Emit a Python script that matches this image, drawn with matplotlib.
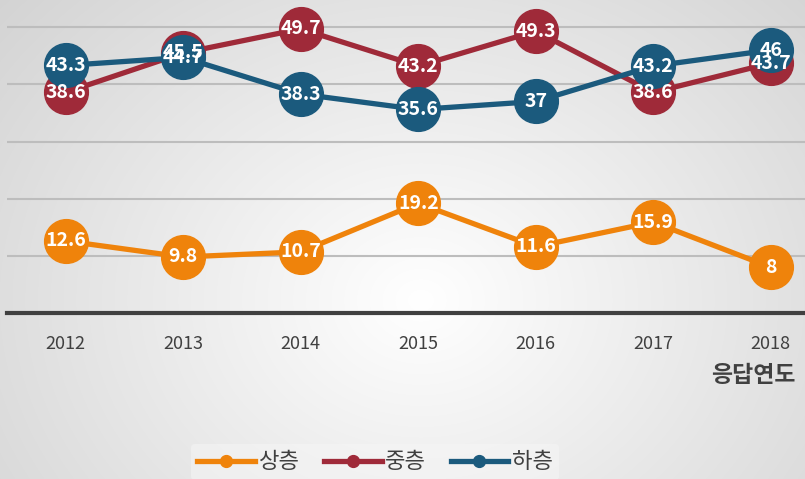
import numpy as np
import matplotlib
matplotlib.use("Agg")
import matplotlib.pyplot as plt

plt.rcParams['font.family'] = ['Noto Sans CJK KR', 'DejaVu Sans']

# data
years = ['2012', '2013', '2014', '2015', '2016', '2017', '2018']
upper = [12.6, 9.8, 10.7, 19.2, 11.6, 15.9, 8]
middle = [38.6, 45.5, 49.7, 43.2, 49.3, 38.6, 43.7]
lower = [43.3, 44.7, 38.3, 35.6, 37, 43.2, 46]
names = ['상층', '중층', '하층']
colors = ['#EF830B', '#9F2A39', '#1B5A7D']

fig = plt.figure(figsize=(8.05, 4.79), dpi=100)

# radial gradient background
bg = fig.add_axes([0, 0, 1, 1], zorder=-10)
yy, xx = np.mgrid[0:479, 0:805]
r = np.sqrt(((xx - 420) / 520.0) ** 2 + ((yy - 300) / 430.0) ** 2)
shade = 1.0 - 0.16 * np.clip(r, 0, 1.2)
bg.imshow(np.dstack([shade] * 3).clip(0, 1), aspect='auto', extent=[0, 1, 0, 1])
bg.axis('off')

ax = fig.add_axes([7 / 805, 166 / 479, 822.5 / 805, 343 / 479])
ax.patch.set_alpha(0)
x = np.arange(len(years))

series = [upper, middle, lower]
for vals, name, c in zip(series, names, colors):
    ax.plot(x, vals, color=c, lw=3.8, marker='o', ms=31.5, label=name,
            clip_on=False, zorder=3)
for vals in series:
    for xi, v in zip(x, vals):
        ax.text(xi, v, f'{v:g}', ha='center', va='center', color='white',
                fontsize=14, fontweight='bold', zorder=5)

ax.set_xlim(-0.5, 6.5)
ax.set_ylim(0, 60)
ax.set_yticks([10, 20, 30, 40, 50])
ax.yaxis.grid(True, color='#bdbdbd', lw=1.5)
ax.set_axisbelow(True)
ax.tick_params(axis='y', left=False, labelleft=False)
ax.set_xticks(x)
ax.set_xticklabels(years, fontsize=13, color='#404040')
ax.tick_params(axis='x', length=0, pad=16)
for s in ['top', 'right', 'left']:
    ax.spines[s].set_visible(False)
ax.spines['bottom'].set_color('#404040')
ax.spines['bottom'].set_linewidth(3)

fig.text(796 / 805, 1 - 375 / 479, '응답연도', ha='right', va='center',
         fontsize=16.5, fontweight='bold', color='#404040')

leg = fig.legend(loc='center', bbox_to_anchor=(375 / 805, 1 - 462 / 479), ncol=3,
                 fontsize=16, frameon=True, handlelength=2.6, markerscale=0.27,
                 columnspacing=1.1, handletextpad=0.15, borderpad=0.3)
leg.get_frame().set_facecolor('#f6f6f6')
leg.get_frame().set_edgecolor('none')
leg.get_frame().set_alpha(0.5)
for t in leg.get_texts():
    t.set_color('#404040')

fig.savefig('out.png', dpi=100)
